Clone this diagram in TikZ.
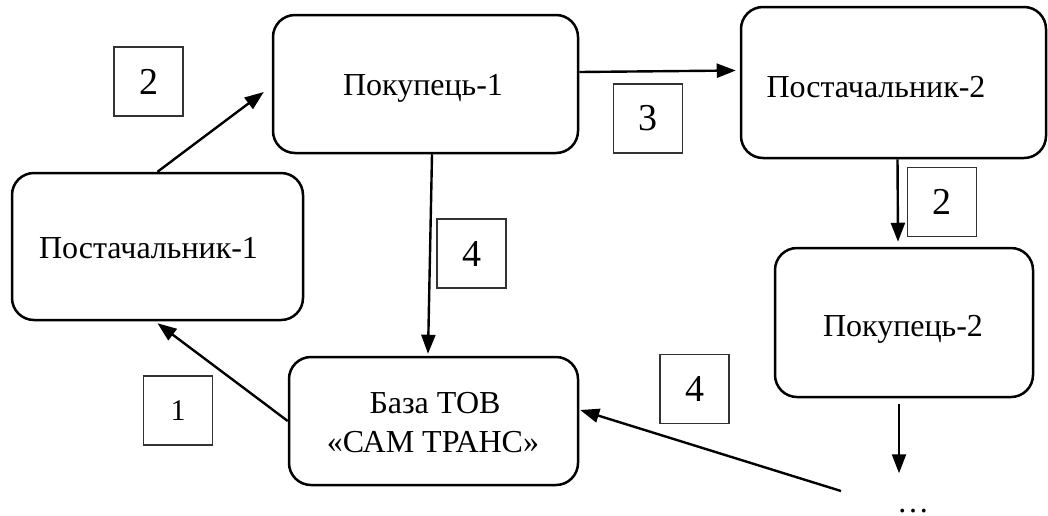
\documentclass[tikz,border=0pt]{standalone}
\usepackage{fontspec}
\setmainfont{Liberation Serif}
\usetikzlibrary{arrows.meta,calc}
\begin{document}
\begin{tikzpicture}[x=1pt,y=-1pt,
  box/.style={draw,line width=2.5pt,rounded corners=22pt,inner sep=0pt},
  lbl/.style={draw=black!80,line width=1.1pt,minimum width=69pt,minimum height=69pt,inner sep=0pt,font=\fontsize{38}{44}\selectfont},
  txt/.style={inner sep=0pt,anchor=base,font=\fontsize{32}{39}\selectfont},
  arr/.style={line width=2.4pt,-{Triangle[length=19pt,width=14pt]}}]
\useasboundingbox (0,0) rectangle (1048,515);
% boxes
\node[box,minimum width=305pt,minimum height=138pt] (pk1) at (425.5,84) {};
\node[box,minimum width=291pt,minimum height=147pt] (ps1) at (157.5,246.5) {};
\node[box,minimum width=305pt,minimum height=151pt] (ps2) at (893.5,82.5) {};
\node[box,minimum width=258pt,minimum height=149pt] (pk2) at (904,322.5) {};
\node[box,minimum width=289pt,minimum height=128pt] (base) at (433.5,421) {};
% texts
\node[txt] (tpk1) at (423,95) {Покупець-1};
\node[txt] (tps2) at (876,97) {Постачальник-2};
\node[txt] (tps1) at (148.5,258) {Постачальник-1};
\node[txt] (tpk2) at (903,336) {Покупець-2};
\node[txt] (tb1) at (435,413) {База ТОВ};
\node[txt] (tb2) at (433,452) {«САМ ТРАНС»};
\node[txt] (dots) at (913,512) {…};
% number labels
\node[lbl] (l2a) at (148.5,81.5) {2};
\node[lbl] (l3) at (648,118.5) {3};
\node[lbl] (l4a) at (471.5,253.5) {4};
\node[lbl] (l2b) at (942,202) {2};
\node[lbl,font=\fontsize{30}{36}\selectfont] (l1) at (178,410.5) {1};
\node[lbl] (l4b) at (694.5,389) {4};
% connectors
\draw[arr] (ps1.north) -- ($(pk1.west)+(-8,8)$);
\draw[arr] ($(pk1.east)+(0,-12)$) -- ($(ps2.west)+(-4,-12)$);
\draw[arr] ($(pk1.south)+(6.5,0)$) -- ($(base.north)+(-5.5,-2)$);
\draw[arr] (base.west) -- ($(ps1.south)+(0,2)$);
\draw[arr] ($(ps2.south)+(4,0)$) -- ($(pk2.north)+(-6,-5)$);
\draw[arr] ($(pk2.south)+(-5,6)$) -- ($(pk2.south)+(-5,75)$);
\draw[arr] ($(dots.base)+(-72,-21)$) -- ($(base.east)+(1,-11)$);
\end{tikzpicture}
\end{document}
